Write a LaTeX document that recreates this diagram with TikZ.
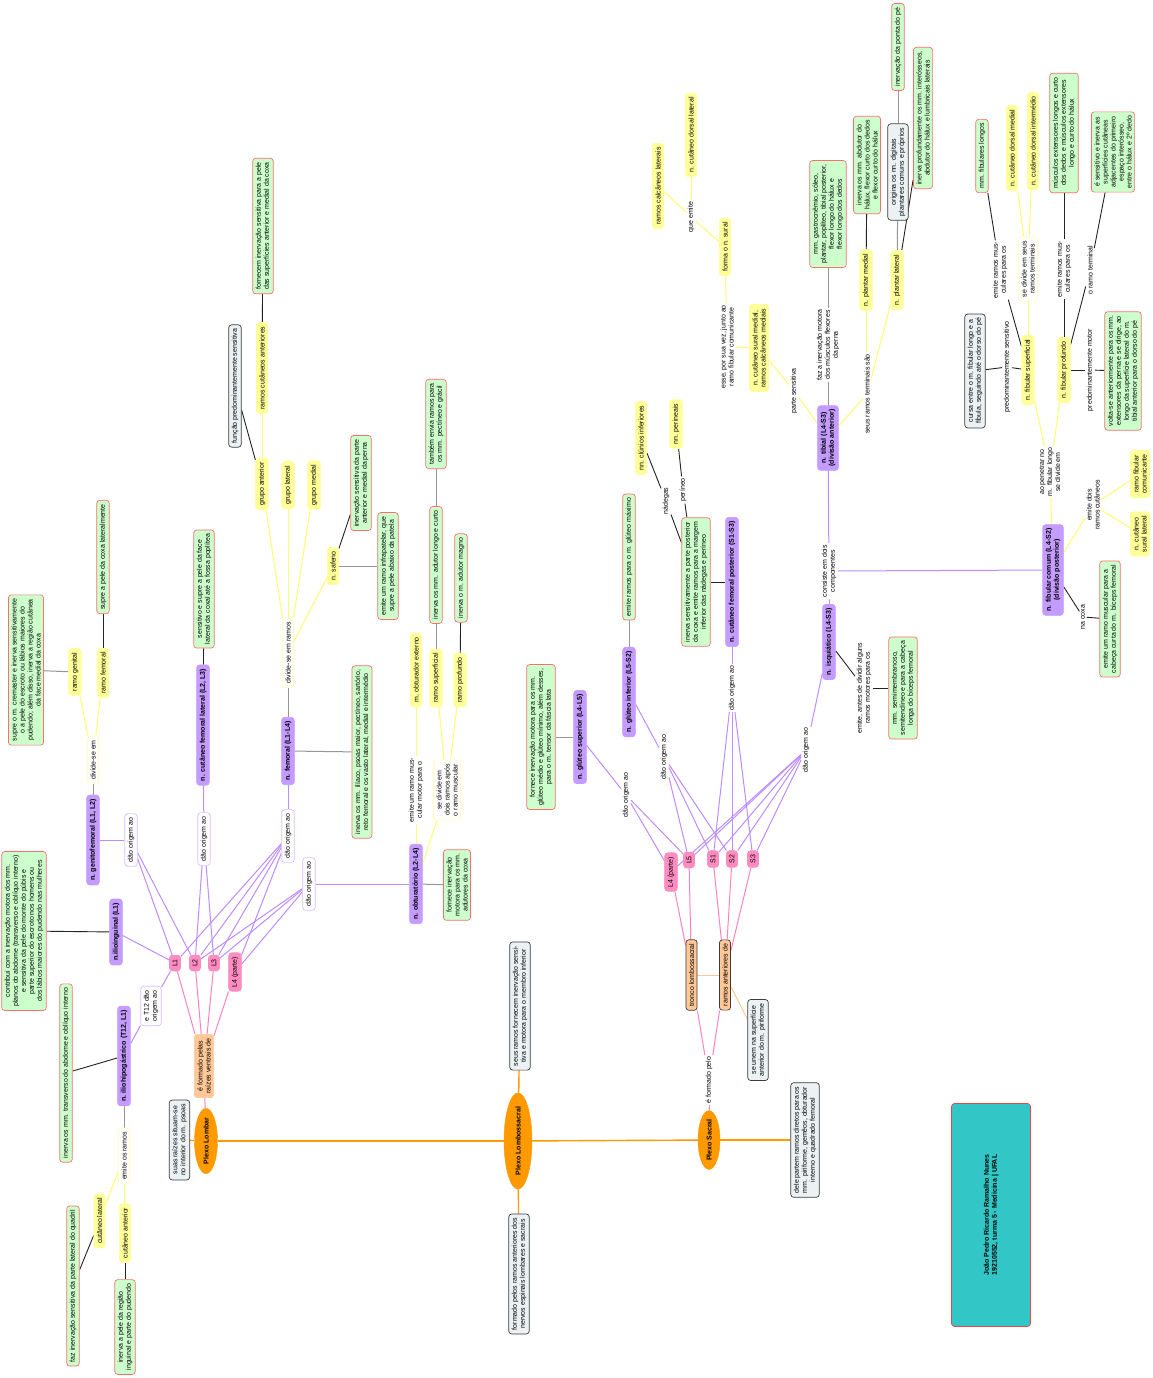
\documentclass[tikz,border=0pt]{standalone}
\usepackage{fontspec}
\setmainfont{Liberation Sans}
\usetikzlibrary{shapes.geometric}
\pgfdeclarelayer{bg}
\pgfdeclarelayer{paper}
\pgfsetlayers{paper,bg,main}
\definecolor{cPurple}{RGB}{196,155,255}
\definecolor{cYel}{RGB}{255,255,153}
\definecolor{cGreen}{RGB}{204,255,204}
\definecolor{cGreenB}{RGB}{255,110,110}
\definecolor{cGray}{RGB}{236,242,244}
\definecolor{cGrayB}{RGB}{60,60,60}
\definecolor{cPink}{RGB}{255,140,192}
\definecolor{cPeach}{RGB}{255,200,150}
\definecolor{cOrange}{RGB}{255,153,0}
\definecolor{cTeal}{RGB}{51,198,198}
\definecolor{cRed}{RGB}{235,70,70}
\definecolor{cLinkP}{RGB}{215,190,255}
\definecolor{cLinkY}{RGB}{255,255,190}
\definecolor{cLineP}{RGB}{190,140,255}
\definecolor{cLineY}{RGB}{255,255,110}
\definecolor{cLineK}{RGB}{35,35,35}
\definecolor{cLineG}{RGB}{150,150,150}
\definecolor{cLinePk}{RGB}{255,130,190}
\tikzset{
 base/.style={rotate=90, rounded corners=3pt, align=center, font=\fontsize{7}{8}\selectfont, inner xsep=4pt, inner ysep=3pt, line width=0.7pt},
 nerve/.style={base, fill=cPurple, draw=cPurple, font=\fontsize{7}{8}\selectfont\bfseries},
 yel/.style={base, fill=cYel, draw=cYel},
 grn/.style={base, fill=cGreen, draw=cGreenB},
 gry/.style={base, fill=cGray, draw=cGrayB},
 pnk/.style={base, fill=cPink, draw=cPink},
 pch/.style={base, fill=cPeach, draw=cPeach},
 pchd/.style={base, fill=cPeach, draw=cGrayB},
 lnkp/.style={base, fill=white, draw=cLinkP},
 lnky/.style={base, fill=white, draw=cLinkY},
 lbl/.style={rotate=90, align=center, font=\fontsize{7}{8}\selectfont, inner sep=1.5pt},
 plexo/.style={ellipse, rotate=90, fill=cOrange, draw=cOrange, font=\fontsize{7}{8}\selectfont\bfseries, inner sep=0pt},
 lp/.style={draw=cLineP, line width=1pt},
 ly/.style={draw=cLineY, line width=1pt},
 lk/.style={draw=cLineK, line width=0.9pt},
 lg/.style={draw=cLineG, line width=1pt},
 lpk/.style={draw=cLinePk, line width=1pt},
 lor/.style={draw=cOrange, line width=1.4pt},
 lpc/.style={draw=cPeach, line width=1pt},
}
\begin{document}
\begin{tikzpicture}[x=1pt,y=-1pt]
\begin{pgfonlayer}{paper}
\fill[white] (0,0) rectangle (1153,1378);
\end{pgfonlayer}
\useasboundingbox (0,0) rectangle (1153,1378);
% ---------- plexos ----------
\node[plexo, minimum width=59pt, minimum height=23pt] (plexoLombar) at (206,1141) {Plexo Lombar};
\node[plexo, minimum width=82pt, minimum height=28pt] (plexoLS) at (518,1141) {Plexo Lombossacral};
\node[plexo, minimum width=54pt, minimum height=22pt] (plexoS) at (709,1140) {Plexo Sacral};
\node[gry] (psoas) at (179.5,1140) {suas raízes situam-se\\no interior do m. psoas};
\node[pch] (formPelas) at (204,1066) {é formado pelas\\raízes ventrais de};
\node[pnk] (L1) at (175,963) {L1};
\node[pnk] (L2) at (195,963) {L2};
\node[pnk] (L3) at (214,963) {L3};
\node[pnk] (L4) at (235,972) {L4 (parte)};
\node[gry] (seusRamos) at (520,1006) {seus ramos fornecem inervação sensi-\\tiva e motora para o membro inferior};
\node[gry] (formPelos) at (519,1274) {formado pelos ramos anteriores dos\\nervos espinais lombares e sacrais};
\node[lbl] (eFormPelo) at (709,1080) {é formado pelo};
\node[pchd] (tronco) at (691.5,975) {tronco lombossacral};
\node[pchd] (ramAnt) at (725,975) {ramos anteriores de};
\node[gry] (seUnem) at (758,1040) {se unem na superfície\\anterior do m. piriforme};
\node[pnk] (L4s) at (671,872) {L4 (parte)};
\node[pnk] (L5s) at (689,860) {L5};
\node[pnk] (S1) at (713,859) {S1};
\node[pnk] (S2) at (732,859) {S2};
\node[pnk] (S3) at (753,859) {S3};
\node[gry] (delePartem) at (805,1140) {dele partem ramos diretos para os\\mm. piriforme, gemêos, obturador\\interno e quadrado femoral};
\node[base, fill=cTeal, draw=cRed, minimum width=223pt, minimum height=79pt, font=\fontsize{7}{8}\selectfont\bfseries] (author) at (991,1215) {João Pedro Ricardo Ramalho Nunes\\19210552, turma 5 - Medicina | UFAL};
% ---------- lumbar ----------
\node[nerve] (ilioHipo) at (124,1056) {n. iliohipogástrico (T12, L1)};
\node[lnkp] (eT12) at (151,1006) {e T12 dão\\origem ao};
\node[grn] (ilioHipoG) at (66,1073) {inerva os mm. transverso do abdome e oblíquo interno};
\node[lnky] (emiteRamos) at (124,1156) {emite os ramos};
\node[yel] (cutLat) at (99.5,1221) {cutâneo lateral};
\node[yel] (cutAnt) at (125,1233) {cutâneo anterior};
\node[grn] (fazInerv) at (73,1286) {faz inervação sensitiva da parte lateral  do quadril};
\node[grn] (inervaPele) at (125,1327) {inerva a pele da região\\inguinal e parte do pudendo};
\node[nerve] (ilioIng) at (116,932) {n.ilioinguinal (L1)};
\node[grn] (ilioIngG) at (24,931) {contribui com a inervação motora dos mm.\\planos do abdome (transverso e oblíquo interno)\\e sensitiva da pele do monte do púbis e\\parte superior do escroto nos homens ou\\dos lábios maiores do pudendo nas mulheres};
\node[nerve] (genito) at (93,840) {n. genitofemoral (L1, L2)};
\node[lnkp] (genitoDao) at (131,840) {dão origem ao};
\node[lnky] (genitoDiv) at (93,760) {divide-se em};
\node[yel] (ramoGen) at (75,672) {ramo genital};
\node[yel] (ramoFem) at (103,673) {ramo femoral};
\node[grn] (ramoGenG) at (26,670) {supre o m. cremaster e inerva sensitivamente\\o a pele do escroto ou lábios maiores do\\pudendo; além disso, inerva a região cutânea\\da face medial da coxa};
\node[grn] (ramoFemG) at (103,557) {supre a pele da coxa lateralmente};
\node[nerve] (cfl) at (203,725) {n. cutâneo femoral lateral (L2, L3)};
\node[grn] (cflG) at (204,589) {sensitivo e supre a pele da face\\lateral da coxal até a fossa poplítea};
\node[lnkp] (cflDao) at (204,839) {dão origem ao};
\node[nerve] (fem) at (288,751) {n. femoral (L1-L4)};
\node[grn] (femG) at (362,752) {inerva os mm. ilíaco, psoas maior, pectíneo, sartório,\\reto femoral e os vasto lateral, medial e intermédio};
\node[lnkp] (femDao) at (288,836) {dão origem ao};
\node[lnky] (femDiv) at (288,653) {divide-se em ramos};
\node[yel] (gAnt) at (262,484) {grupo anterior};
\node[yel] (gLat) at (288,485) {grupo lateral};
\node[yel] (gMed) at (314,485) {grupo medial};
\node[yel] (safeno) at (333,566) {n. safeno};
\node[yel] (rca) at (262,368) {ramos cutâneos anteriores};
\node[grn] (rcaG) at (263,226) {fornecem inervação sensitiva para a pele\\das superfícies anterior e medial da coxa};
\node[gry] (funcao) at (235,386) {função predominantemente sensitiva};
\node[grn] (safInfra) at (388,566) {emite um ramo infrapatelar, que\\supre a pele abaixo da patela};
\node[grn] (safSens) at (361,483) {inervação sensitiva da parte\\anterior e medial da perna};
\node[nerve] (obt) at (416,884) {n. obturatório (L2-L4)};
\node[lnkp] (obtDao) at (309,884) {dão origem ao};
\node[grn] (obtG) at (457,885) {fornece inervação\\motora para os mm.\\adutores da coxa};
\node[lbl] (obtEmite) at (416,790) {emite um ramo mus-\\cular motor para o};
\node[yel] (obtExt) at (416,670) {m. obturador externo};
\node[lnky] (obtDiv) at (447,790) {se divide em\\dois ramos após\\o ramo muscular};
\node[yel] (rSup) at (436,678) {ramo superficial};
\node[yel] (rProf) at (460,680) {ramo profundo};
\node[grn] (rSupG) at (436,565) {inerva os mm. adutor longo e curto};
\node[grn] (rSupG2) at (436,424) {também envia ramos para\\os mm. pectíneo e grácil};
\node[grn] (rProfG) at (461,578) {inerva o m. adutor magno};
% ---------- sacral ----------
\node[nerve] (gSup) at (580,737) {n. glúteo superior (L4-L5)};
\node[grn] (gSupG) at (541,737) {fornece inervação motora para os mm.\\glúteo médio e glúteo mínimo, além desses,\\para o m. tensor da fáscia lata};
\node[lbl] (gSupDao) at (626,795) {dão origem ao};
\node[nerve] (gInf) at (629,692) {n. glúteo inferior (L5-S2)};
\node[grn] (gInfG) at (629,557) {emite ramos para o m. glúteo máximo};
\node[lbl] (gInfDao) at (664,757) {dão origem ao};
\node[nerve] (cfp) at (732,582) {n. cutâneo femoral posterior (S1-S3)};
\node[grn] (cfpG) at (696,582) {inerva sensitivamente a parte posterior\\da coxa e emite ramos para a margem\\inferior das nádegas e períneo};
\node[lbl] (cfpDao) at (732,688) {dão origem ao};
\node[lbl] (nadegas) at (666,501) {nádegas};
\node[lbl] (perineo) at (683,490) {períneo};
\node[yel] (clunios) at (641,438) {nn. clúnios inferiores};
\node[yel] (perineais) at (676,424) {nn. perineais};
\node[nerve] (isq) at (829,642) {n. isquiático (L4-S3)};
\node[lbl] (isqDao) at (806,750) {dão origem ao};
\node[lbl] (isqEmite) at (864,688) {emite, antes de dividir alguns\\ramos motores para os};
\node[grn] (isqG) at (903,688) {mm. semimembranoso,\\semitendíneo e para a cabeça\\longa do bíceps femoral};
\node[lbl] (consiste) at (829,571) {consiste em dois\\componentes};
\node[nerve] (tibial) at (828,438) {n. tibial (L4-S3)\\(divisão anterior)};
\node[lbl] (parteSens) at (794,391) {parte sensitiva};
\node[yel] (suralMed) at (759,348) {n. cutâneo sural medial,\\ramos calcâneos mediais};
\node[lbl] (esse) at (727,347) {esse, por sua vez, junto ao\\ramo fibular comunicante};
\node[yel] (formaSural) at (725,247) {forma o n. sural};
\node[lbl] (queEmite) at (691,217) {que emite};
\node[yel] (calcLat) at (658,186) {ramos calcâneos laterais};
\node[yel] (cutDorsLat) at (691,135) {n. cutâneo dorsal lateral};
\node[lbl] (fazMotora) at (828,345) {faz a inervação motora\\dos músculos flexores\\da perna};
\node[grn] (tibG) at (828,214) {mm. gastrocnêmio, sóleo,\\plantar, poplíteo, tibial posterior,\\flexor longo do hálux e\\flexor longo dos dedos};
\node[lbl] (seusTerm) at (867,394) {seus ramos terminais são};
\node[yel] (plMed) at (866,280) {n. plantar medial};
\node[yel] (plLat) at (897,280) {n. plantar lateral};
\node[grn] (plMedG) at (867,165) {inerva os mm. abdutor do\\hálux, flexor curto dos dedos\\e flexor curto do hálux};
\node[gry] (origina) at (898,172) {origina os nn. digitais\\plantares comuns e próprios};
\node[grn] (ponta) at (898,47) {inervação da ponta do pé};
\node[grn] (plLatG) at (923,118) {inerva profundamente os mm. interósseos,\\abdutor do hálux e lumbricais laterais};
\node[nerve] (fibCom) at (1053,570) {n. fibular comum (L4-S2)\\(divisão posterior)};
\node[lbl] (naCoxa) at (1083,617) {na coxa};
\node[grn] (fibComG) at (1110,619) {emite um ramo muscular para a\\cabeça curta do m. bíceps femoral};
\node[lbl] (emiteDois) at (1093,505) {emite dois\\ramos cutâneos};
\node[yel] (rfc) at (1140,474) {ramo fibular\\comunicante};
\node[yel] (csl) at (1140,534) {n. cutâneo\\sural lateral};
\node[lbl] (aoPen) at (1050,472) {ao penetrar no\\m. fibular longo\\se divide em};
\node[yel] (fibSup) at (1028,370) {n. fibular superficial};
\node[yel] (fibProf) at (1064,370) {n. fibular profundo};
\node[lbl] (predSens) at (1007,367) {predominantemente sensitivo};
\node[gry] (cursa) at (975,371) {cursa entre o m. fibular longo e a\\fíbula, seguindo até o dorso do pé};
\node[lbl] (supEmite) at (1000,270) {emite ramos mus-\\culares para os};
\node[grn] (fibLongos) at (982,156) {mm. fibulares longos};
\node[lnky] (supDiv) at (1028,269) {se divide em seus\\ramos terminais};
\node[yel] (cdm) at (1012,148) {n. cutâneo dorsal medial};
\node[yel] (cdi) at (1033,141) {n. cutâneo dorsal intermédio};
\node[lbl] (profEmite) at (1064,269) {emite ramos mus-\\culares para os};
\node[grn] (profG) at (1064,133) {músculos extensores longos e curto\\dos dedos e músculos extensores\\longo e curto do hálux};
\node[lbl] (ramoTerm) at (1090,270) {o ramo terminal};
\node[grn] (termG) at (1113,152) {é sensitivo e inerva as\\superfícies cutâneas\\adjacentes do primeiro\\espaço interósseo,\\entre o hálux e 2º dedo};
\node[lbl] (predMotor) at (1090,370) {predominantemente motor};
\node[grn] (voltaG) at (1123,371) {volta-se anteriormente para os mm.\\extensores da perna e se dirige, ao\\longo da superfície lateral do m.\\tibial anterior para o dorso do pé};
% ---------- connectors ----------
\begin{pgfonlayer}{bg}
\draw[lor] (psoas) -- (plexoLombar);
\draw[lor] (plexoLombar) -- (plexoLS);
\draw[lor] (plexoLS) -- (plexoS);
\draw[lor] (plexoS) -- (delePartem);
\draw[lor] (plexoLS) -- (seusRamos);
\draw[lor] (plexoLS) -- (formPelos);
\draw[lpk] (plexoLombar) -- (formPelas);
\foreach \n in {L1,L2,L3,L4} \draw[lpk] (formPelas) -- (\n);
\draw[lpk] (plexoS) -- (eFormPelo);
\draw[lpk] (eFormPelo) -- (tronco);
\draw[lpk] (eFormPelo) -- (ramAnt);
\draw[lpk] (tronco) -- (L4s);
\draw[lpk] (tronco) -- (L5s);
\foreach \n in {S1,S2,S3} \draw[lpk] (ramAnt) -- (\n);
\draw[lpc] (tronco) -- (ramAnt);
\draw[lpc] (ramAnt) -- (seUnem);
% purple
\draw[lp] (L1) -- (ilioIng);
\draw[lp] (L1) -- (eT12);
\draw[lp] (eT12) -- (ilioHipo);
\draw[lp] (genito) -- (genitoDao);
\foreach \n in {L1,L2} \draw[lp] (genitoDao) -- (\n);
\draw[lp] (cfl) -- (cflDao);
\foreach \n in {L2,L3} \draw[lp] (cflDao) -- (\n);
\draw[lp] (fem) -- (femDao);
\foreach \n in {L1,L2,L3,L4} \draw[lp] (femDao) -- (\n);
\draw[lp] (obt) -- (obtDao);
\foreach \n in {L2,L3,L4} \draw[lp] (obtDao) -- (\n);
\draw[lp] (gSup) -- (gSupDao);
\foreach \n in {L4s,L5s} \draw[lp] (gSupDao) -- (\n);
\draw[lp] (gInf) -- (gInfDao);
\foreach \n in {L5s,S1,S2} \draw[lp] (gInfDao) -- (\n);
\draw[lp] (cfp) -- (cfpDao);
\foreach \n in {S1,S2,S3} \draw[lp] (cfpDao) -- (\n);
\draw[lp] (isq) -- (isqDao);
\foreach \n in {L4s,L5s,S1,S2,S3} \draw[lp] (isqDao) -- (\n);
\draw[lp] (isq) -- (consiste);
\draw[lp] (consiste) -- (tibial);
\draw[lp] (consiste) -- (fibCom);
% dark / gray
\draw[lk] (ilioHipo) -- (ilioHipoG);
\draw[lg] (ilioHipo) -- (emiteRamos);
\draw[lk] (cutLat) -- (fazInerv);
\draw[lk] (cutAnt) -- (inervaPele);
\draw[lk] (ilioIng) -- (ilioIngG);
\draw[lg] (genito) -- (genitoDiv);
\draw[lg] (ramoGen) -- (ramoGenG);
\draw[lk] (ramoFem) -- (ramoFemG);
\draw[lk] (cfl) -- (cflG);
\draw[lg] (fem) -- (femG);
\draw[lg] (fem) -- (femDiv);
\draw[lk] (rca) -- (rcaG);
\draw[lk] (gAnt) -- (funcao);
\draw[lg] (safeno) -- (safInfra);
\draw[lk] (safeno) -- (safSens);
\draw[lg] (obt) -- (obtG);
\draw[lg] (rSup) -- (rSupG);
\draw[lg] (rSupG) -- (rSupG2);
\draw[lk] (rProf) -- (rProfG);
\draw[lg] (gSup) -- (gSupG);
\draw[lg] (gInf) -- (gInfG);
\draw[lk] (cfp) -- (cfpG);
\draw[lk] (cfpG) -- (nadegas);
\draw[lk] (nadegas) -- (clunios);
\draw[lk] (cfpG) -- (perineo);
\draw[lk] (perineo) -- (perineais);
\draw[lk] (isq) -- (isqEmite);
\draw[lk] (isqEmite) -- (isqG);
\draw[lg] (tibial) -- (fazMotora);
\draw[lg] (fazMotora) -- (tibG);
\draw[lk] (plMed) -- (plMedG);
\draw[lg] (plLat) -- (origina);
\draw[lg] (origina) -- (ponta);
\draw[lk] (plLat) -- (plLatG);
\draw[lk] (fibCom) -- (naCoxa);
\draw[lk] (naCoxa) -- (fibComG);
\draw[lk] (fibSup) -- (predSens);
\draw[lk] (predSens) -- (cursa);
\draw[lk] (fibSup) -- (supEmite);
\draw[lk] (supEmite) -- (fibLongos);
\draw[lk] (fibProf) -- (profEmite);
\draw[lk] (profEmite) -- (profG);
\draw[lk] (fibProf) -- (ramoTerm);
\draw[lk] (ramoTerm) -- (termG);
\draw[lk] (fibProf) -- (predMotor);
\draw[lk] (predMotor) -- (voltaG);
% yellow
\foreach \n in {cutLat,cutAnt} \draw[ly] (emiteRamos) -- (\n);
\foreach \n in {ramoGen,ramoFem} \draw[ly] (genitoDiv) -- (\n);
\foreach \n in {gAnt,gLat,gMed,safeno} \draw[ly] (femDiv) -- (\n);
\draw[ly] (gAnt) -- (rca);
\draw[ly] (obt) -- (obtEmite);
\draw[ly] (obtEmite) -- (obtExt);
\draw[ly] (obt) -- (obtDiv);
\foreach \n in {rSup,rProf} \draw[ly] (obtDiv) -- (\n);
\draw[ly] (tibial) -- (parteSens);
\draw[ly] (parteSens) -- (suralMed);
\draw[ly] (suralMed) -- (esse);
\draw[ly] (esse) -- (formaSural);
\draw[ly] (formaSural) -- (queEmite);
\draw[ly] (queEmite) -- (calcLat);
\draw[ly] (queEmite) -- (cutDorsLat);
\draw[ly] (tibial) -- (seusTerm);
\foreach \n in {plMed,plLat} \draw[ly] (seusTerm) -- (\n);
\draw[ly] (fibCom) -- (emiteDois);
\foreach \n in {rfc,csl} \draw[ly] (emiteDois) -- (\n);
\draw[ly] (fibCom) -- (aoPen);
\foreach \n in {fibSup,fibProf} \draw[ly] (aoPen) -- (\n);
\draw[ly] (fibSup) -- (supDiv);
\foreach \n in {cdm,cdi} \draw[ly] (supDiv) -- (\n);
\end{pgfonlayer}
\end{tikzpicture}
\end{document}
